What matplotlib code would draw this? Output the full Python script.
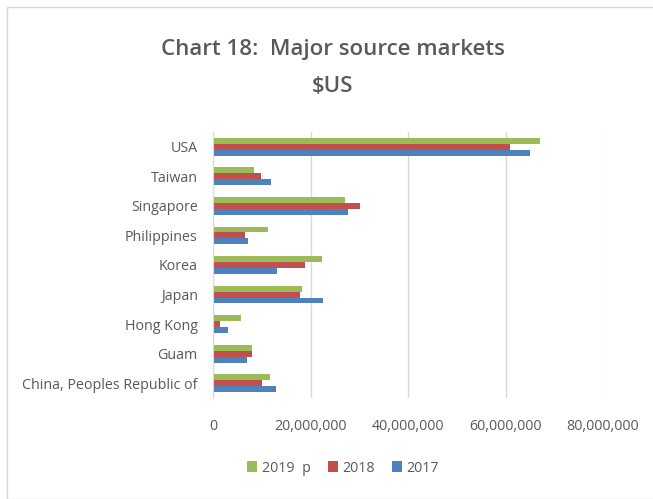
# Chart 18: Major source markets ($US)
import matplotlib.pyplot as plt
from matplotlib.patches import Rectangle
from matplotlib.ticker import FuncFormatter
import numpy as np

# Data, top to bottom
markets = ['USA', 'Taiwan', 'Singapore', 'Philippines', 'Korea', 'Japan',
           'Hong Kong', 'Guam', 'China, Peoples Republic of']
y2019p = [67.0e6, 8.4e6, 27.0e6, 11.3e6, 22.3e6, 18.3e6, 5.8e6, 8.1e6, 11.6e6]
y2018 = [60.9e6, 9.8e6, 30.2e6, 6.6e6, 18.9e6, 17.8e6, 1.5e6, 8.1e6, 10.1e6]
y2017 = [65.0e6, 11.8e6, 27.7e6, 7.1e6, 13.2e6, 22.6e6, 3.1e6, 6.9e6, 13.0e6]
xticks = [0, 20e6, 40e6, 60e6, 80e6]

plt.rcParams['font.family'] = ['Open Sans', 'DejaVu Sans']
txt = '#595959'

fig = plt.figure(figsize=(6.53, 4.99), dpi=100)
fig.patches.append(Rectangle((7 / 653, 0), 1, 1 - 7 / 499, transform=fig.transFigure,
                             facecolor='none', edgecolor='#d9d9d9', lw=1))

ax = fig.add_axes([213 / 653, 1 - 398 / 499, 390 / 653, 266 / 499])
pos = np.arange(len(markets))
h = 0.2
ax.barh(pos - h, y2019p, height=h, color='#9BBB59', label='2019  p')
ax.barh(pos, y2018, height=h, color='#C0504D', label='2018')
ax.barh(pos + h, y2017, height=h, color='#4F81BD', label='2017')

ax.set_ylim(len(markets) - 0.5, -0.5)
ax.set_xlim(0, 80e6)
ax.set_yticks(pos)
ax.set_yticklabels(markets, fontsize=10.3, color=txt)
ax.set_xticks(xticks)
ax.xaxis.set_major_formatter(FuncFormatter(lambda v, p: f'{int(v):,}'))
ax.tick_params(axis='x', labelsize=10.3, labelcolor=txt, length=0, pad=15)
ax.tick_params(axis='y', length=0, pad=11)
ax.grid(axis='x', color='#d9d9d9', lw=1)
ax.set_axisbelow(True)
for s in ['top', 'right', 'bottom']:
    ax.spines[s].set_visible(False)
ax.spines['left'].set_color('#d9d9d9')

fig.text(0.51, 1 - 49 / 499, 'Chart 18:  Major source markets', ha='center', va='center',
         fontsize=16, color=txt, fontweight='semibold')
fig.text(0.51, 1 - 86 / 499, '$US', ha='center', va='center',
         fontsize=16, color=txt, fontweight='semibold')

fig.legend(loc='center', bbox_to_anchor=(0.525, 1 - 468 / 499), ncol=3, frameon=False,
           fontsize=10.3, labelcolor=txt, handlelength=0.7, handleheight=0.7,
           handletextpad=0.3, columnspacing=1.2)

fig.savefig('out.png', dpi=100)
